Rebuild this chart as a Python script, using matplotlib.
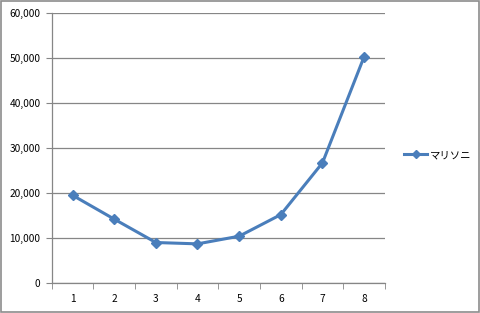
import matplotlib
matplotlib.use("Agg")
import matplotlib.pyplot as plt
from matplotlib.patches import Rectangle
from matplotlib.ticker import FuncFormatter, MultipleLocator

plt.rcParams['font.family'] = ['Noto Sans CJK JP', 'DejaVu Sans']

categories = [1, 2, 3, 4, 5, 6, 7, 8]
values = [19500, 14200, 9000, 8700, 10400, 15200, 26700, 50300]
series_name = "マリソニ"

fig = plt.figure(figsize=(4.8, 3.13), dpi=100)
fig.patches.append(Rectangle((0.002, 0.003), 0.995, 0.994, transform=fig.transFigure,
                             fill=False, edgecolor='#8c8c8c', linewidth=1.2))
ax = fig.add_axes([0.1077, 0.0958, 0.6943, 0.8627])

xs = list(range(1, len(categories) + 1))
ax.plot(xs, values, color='#4A7EBB', linewidth=2.2, marker='D', markersize=5.5,
        label=series_name, zorder=3)

ax.set_xlim(0.5, len(categories) + 0.5)
ax.set_ylim(0, 60000)
ax.yaxis.set_major_locator(MultipleLocator(10000))
ax.yaxis.set_major_formatter(FuncFormatter(lambda v, p: f"{int(v):,}"))
ax.set_xticks(xs)
ax.set_xticklabels([str(c) for c in categories])
ax.set_xticks([x + 0.5 for x in range(0, len(categories) + 1)], minor=True)
ax.tick_params(axis='x', which='major', length=0, pad=8, labelsize=7.3, colors='black')
ax.tick_params(axis='x', which='minor', length=4, color='#868686', direction='out')
ax.tick_params(axis='y', length=4, color='#868686', labelsize=7.3, pad=4)

ax.grid(axis='y', color='#868686', linewidth=0.9)
ax.set_axisbelow(True)
for s in ['top', 'right']:
    ax.spines[s].set_visible(False)
for s in ['left', 'bottom']:
    ax.spines[s].set_color('#868686')
    ax.spines[s].set_linewidth(0.9)

leg = ax.legend(loc='center left', bbox_to_anchor=(1.03, 0.474), frameon=False,
                fontsize=7.5, handlelength=2.2, handletextpad=0.3, markerscale=0.8)

fig.savefig("out.png", dpi=100)
